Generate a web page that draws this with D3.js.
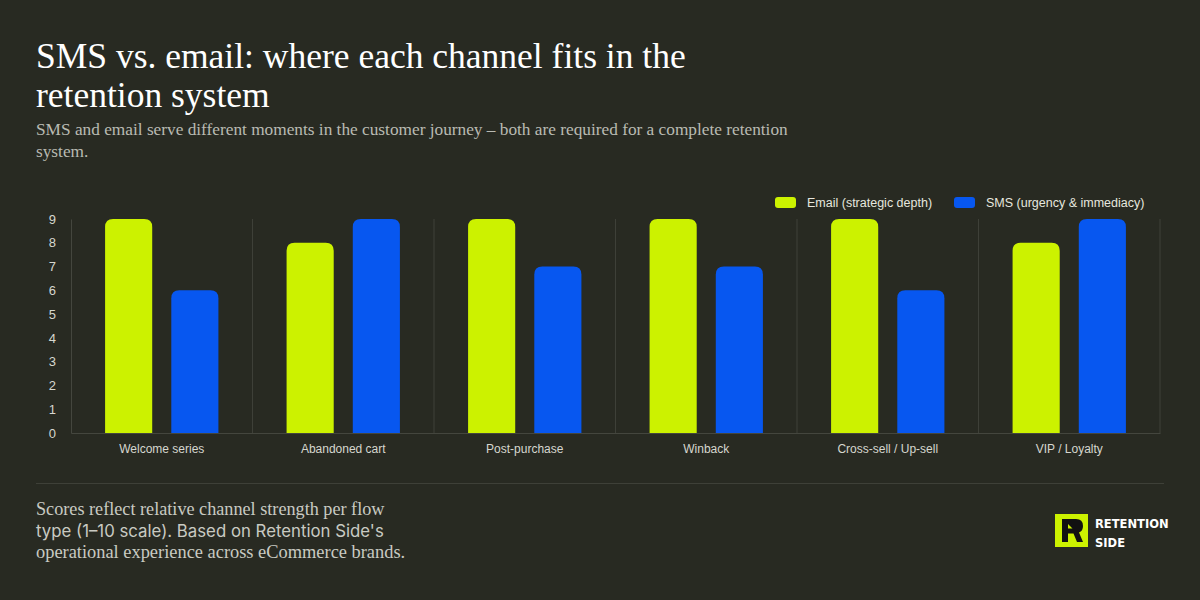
<!DOCTYPE html>
<html>
<head>
<meta charset="utf-8">
<script src="https://cdn.jsdelivr.net/npm/d3@7"></script>
<style>
  body { margin: 0; background: #282a22; }
  svg { display: block; }
</style>
</head>
<body>
<div id="chart"></div>
<script>
// data
var categories = ["Welcome series", "Abandoned cart", "Post-purchase", "Winback", "Cross-sell / Up-sell", "VIP / Loyalty"];
var emailScores = [9, 8, 9, 9, 9, 8];
var smsScores = [6, 9, 7, 7, 6, 9];
var seriesNames = ["Email (strategic depth)", "SMS (urgency & immediacy)"];
var yTicks = [0, 1, 2, 3, 4, 5, 6, 7, 8, 9];

var colors = ["#ccf200", "#0757f0"];
var W = 1200, H = 600;
var plot = {left: 71, right: 1160, top: 219, bottom: 433};

var svg = d3.select("#chart").append("svg")
    .attr("width", W)
    .attr("height", H);

svg.append("rect").attr("width", W).attr("height", H).attr("fill", "#282a22");

// title + subtitle
var serif = "'Liberation Serif', 'DejaVu Serif', serif";
var sans = "'Liberation Sans', Arial, sans-serif";

svg.append("text").attr("x", 36).attr("y", 68)
    .attr("fill", "#ffffff").style("font-family", serif).style("font-size", "35.5px")
    .text("SMS vs. email: where each channel fits in the");
svg.append("text").attr("x", 36).attr("y", 107)
    .attr("fill", "#ffffff").style("font-family", serif).style("font-size", "35.5px")
    .text("retention system");

svg.append("text").attr("x", 36).attr("y", 135)
    .attr("fill", "#b9bab2").style("font-family", serif).style("font-size", "17.3px")
    .text("SMS and email serve different moments in the customer journey \u2013 both are required for a complete retention");
svg.append("text").attr("x", 36).attr("y", 157)
    .attr("fill", "#b9bab2").style("font-family", serif).style("font-size", "17.3px")
    .text("system.");

// scales
var x0 = d3.scaleBand().domain(categories).range([plot.left, plot.right]).padding(0);
var x1 = d3.scaleBand().domain([0, 1]).range([0, x0.bandwidth()])
    .paddingInner(0.288).paddingOuter(0.515);
var y = d3.scaleLinear().domain([0, 9]).range([plot.bottom, plot.top]);

// vertical separators between groups
svg.append("g").selectAll("line")
    .data(categories)
  .enter().append("line")
    .attr("x1", function(d) { return x0(d) + x0.bandwidth(); })
    .attr("x2", function(d) { return x0(d) + x0.bandwidth(); })
    .attr("y1", y(9)).attr("y2", y(0))
    .attr("stroke", "#3e4038").attr("stroke-width", 1);

// rounded-top bar path
function barPath(x, yTop, w, yBase, r) {
  r = Math.min(r, w / 2, yBase - yTop);
  return "M" + x + "," + yBase +
    "V" + (yTop + r) +
    "Q" + x + "," + yTop + " " + (x + r) + "," + yTop +
    "H" + (x + w - r) +
    "Q" + (x + w) + "," + yTop + " " + (x + w) + "," + (yTop + r) +
    "V" + yBase + "Z";
}

var rows = categories.map(function(c, i) {
  return {cat: c, vals: [emailScores[i], smsScores[i]]};
});

var groups = svg.append("g").selectAll("g")
    .data(rows)
  .enter().append("g")
    .attr("transform", function(d) { return "translate(" + x0(d.cat) + ",0)"; });

groups.selectAll("path")
    .data(function(d) { return d.vals.map(function(v, k) { return {k: k, v: v}; }); })
  .enter().append("path")
    .attr("fill", function(d) { return colors[d.k]; })
    .attr("d", function(d) { return barPath(x1(d.k), y(d.v), x1.bandwidth(), y(0), 8); });

// y axis
var yAxis = svg.append("g")
    .attr("transform", "translate(" + plot.left + ",0)")
    .call(d3.axisLeft(y).tickValues(yTicks).tickSize(0).tickPadding(15));
yAxis.select(".domain").attr("stroke", "#44463e");
yAxis.selectAll("text").attr("fill", "#d6d7cf").style("font-family", sans).style("font-size", "13px");

// x axis
var xAxis = svg.append("g")
    .attr("transform", "translate(0," + plot.bottom + ")")
    .call(d3.axisBottom(x0).tickSize(0).tickPadding(11));
xAxis.select(".domain").attr("stroke", "#44463e");
xAxis.selectAll("text").attr("fill", "#d6d7cf").style("font-family", sans).style("font-size", "12px");

// legend
var legendX = [775, 954];
var legend = svg.append("g").selectAll("g")
    .data(seriesNames)
  .enter().append("g")
    .attr("transform", function(d, i) { return "translate(" + legendX[i] + ",197)"; });
legend.append("rect")
    .attr("width", 21).attr("height", 11).attr("rx", 3)
    .attr("fill", function(d, i) { return colors[i]; });
legend.append("text")
    .attr("x", 32).attr("y", 10)
    .attr("fill", "#e6e7df").style("font-family", sans).style("font-size", "12.5px")
    .text(function(d) { return d; });

// footer rule
svg.append("line")
    .attr("x1", 36).attr("x2", 1164).attr("y1", 483.5).attr("y2", 483.5)
    .attr("stroke", "#3e4038").attr("stroke-width", 1);

// footer note (middle line renders in a sans fallback)
var footLines = [
  {t: "Scores reflect relative channel strength per flow", f: serif, s: "18.2px"},
  {t: "type (1\u201310 scale). Based on Retention Side's", f: "'Inter', 'Noto Sans', sans-serif", s: "16.8px"},
  {t: "operational experience across eCommerce brands.", f: serif, s: "18.4px"}
];
svg.append("g").selectAll("text")
    .data(footLines)
  .enter().append("text")
    .attr("x", 36).attr("y", function(d, i) { return 515 + i * 21.5; })
    .attr("fill", "#c9cac2")
    .style("font-family", function(d) { return d.f; })
    .style("font-size", function(d) { return d.s; })
    .text(function(d) { return d.t; });

// logo
var logo = svg.append("g").attr("transform", "translate(1055,514)");
logo.append("rect").attr("width", 33).attr("height", 33).attr("fill", "#ccf200");
logo.append("path")
    .attr("fill", "#111111")
    .attr("d", "M7,5 H21 Q28,5 28,12 Q28,17 24,18.5 L28,28 H22 L18.5,19.5 H13 V28 H7 Z M13,10 V14.5 H18 L16,12.5 L17.5,11 L21.5,14.5 L17.5,18 L16,16.5 L18,15 Z");
logo.append("text").attr("x", 40).attr("y", 14)
    .attr("fill", "#ffffff").style("font-family", "'DejaVu Sans Condensed', 'DejaVu Sans', sans-serif")
    .style("font-weight", "bold").style("font-size", "12.8px")
    .text("RETENTION");
logo.append("text").attr("x", 40).attr("y", 33)
    .attr("fill", "#ffffff").style("font-family", "'DejaVu Sans Condensed', 'DejaVu Sans', sans-serif")
    .style("font-weight", "bold").style("font-size", "12.8px")
    .text("SIDE");
</script>
</body>
</html>
